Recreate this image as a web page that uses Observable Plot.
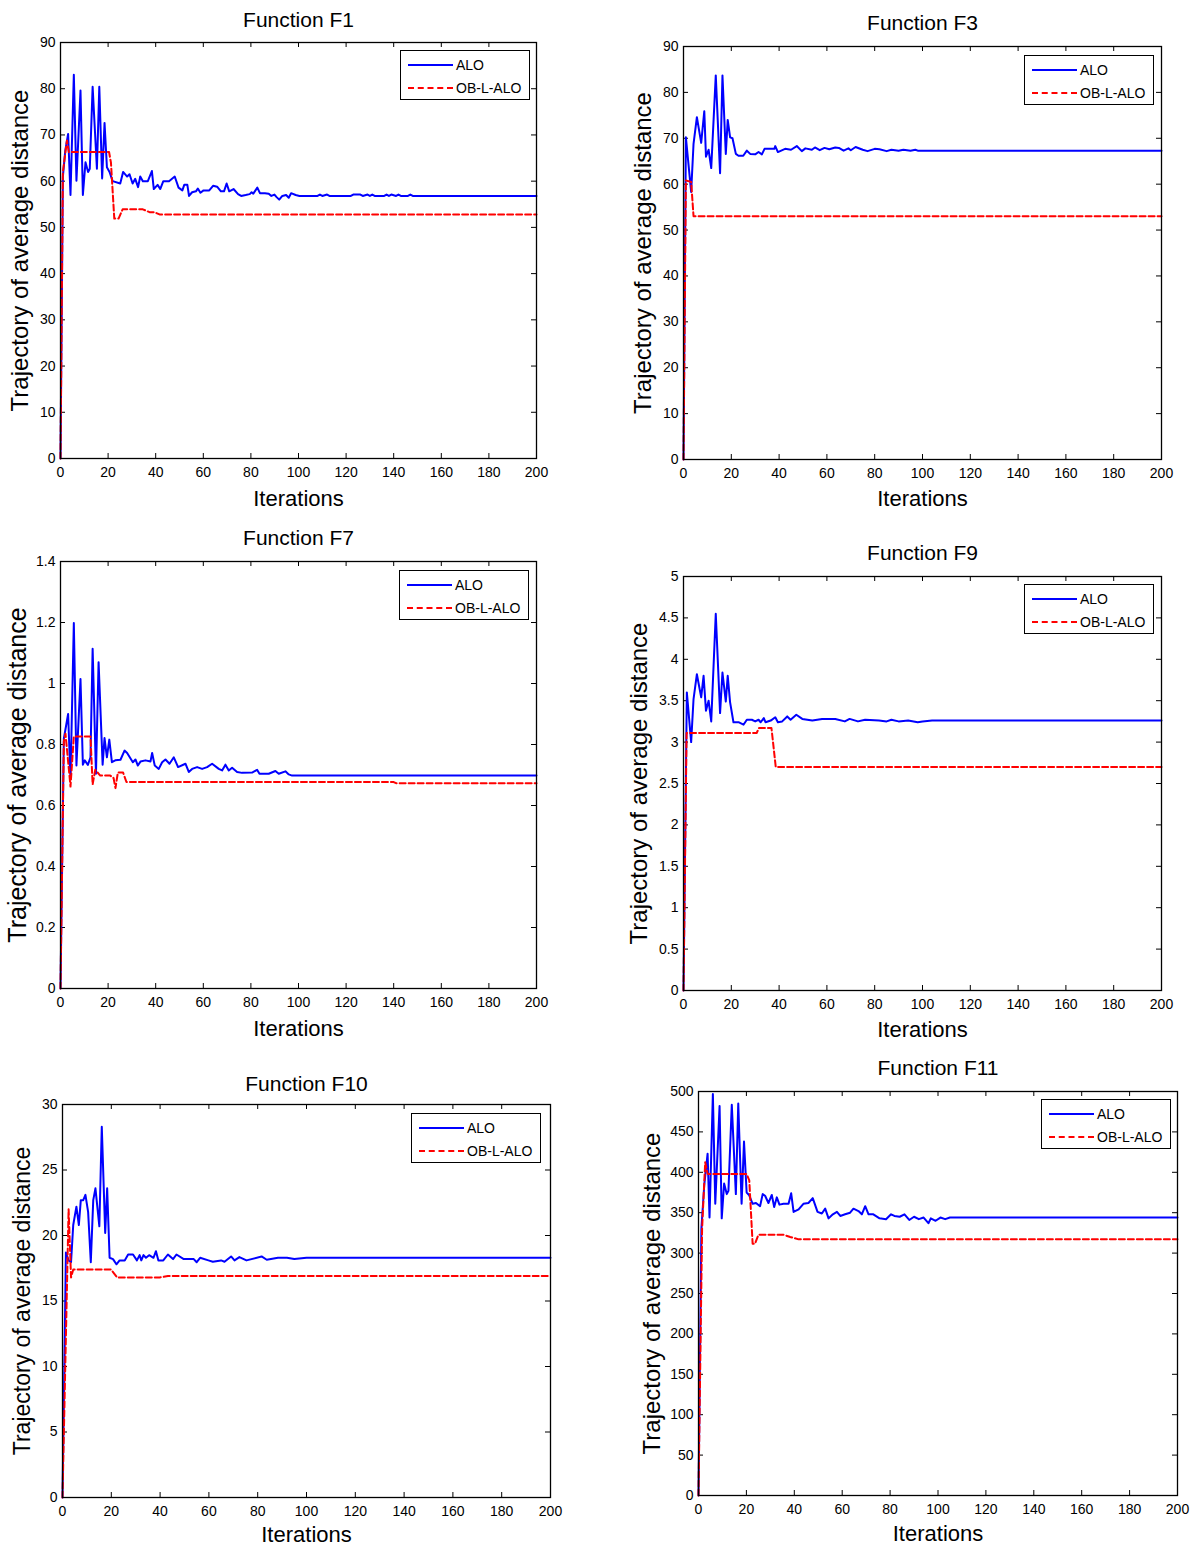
<!DOCTYPE html>
<html>
<head>
<meta charset="utf-8">
<script src="https://cdn.jsdelivr.net/npm/d3@7"></script>
<script src="https://cdn.jsdelivr.net/npm/@observablehq/plot@0.6"></script>
<style>
  body { margin: 0; background: #fff; }
  #wrap { position: relative; width: 1194px; height: 1548px; overflow: hidden; background: #fff;
          font-family: "Liberation Sans", Arial, sans-serif; }
  #wrap svg { position: absolute; left: 0; top: 0; }
  .legend { position: absolute; width: 130px; height: 50px; border: 1px solid #000; background: #fff; box-sizing: border-box; }
  .legend .row { position: absolute; left: 0; height: 0; width: 100%; }
  .legend .sample { position: absolute; left: 7px; width: 45px; top: 0; }
  .legend .lab { position: absolute; left: 55px; top: -9px; font-size: 14px; line-height: 18px; color: #000; white-space: nowrap; }
</style>
</head>
<body>
<div id="wrap"></div>
<script>
// ---------- data: [iteration, average distance] ----------
const seriesNames = ["ALO", "OB-L-ALO"];
const iterTicks = [0, 20, 40, 60, 80, 100, 120, 140, 160, 180, 200];

const f1Ticks = [0, 10, 20, 30, 40, 50, 60, 70, 80, 90];
const f1Alo = [[0,0],[1,61],[2,66.6],[3.2,70.2],[4.2,57],[5.6,83],[6.7,60.1],[8.4,79.6],[9.4,57],[10.5,64.1],[11.6,62],[12.3,62.7],[13.5,80.4],[15.3,62.7],[16.3,80.4],[17.5,60.6],[18.5,72.6],[19.5,63],[20.6,62],[21.9,60],[25.1,59.5],[26.3,62],[28,61],[29,61.5],[30.3,59.5],[31.4,60.5],[32.6,58.7],[33.5,61],[34.6,60],[36.7,60],[38.4,62.2],[39.2,58.3],[40.8,59.2],[41.9,58.3],[43.2,60],[45.6,60],[48,61],[49.6,58.6],[51.2,58],[52,59.2],[53.3,59.2],[54,56.8],[55.3,57.6],[56.9,57.8],[57.7,58.4],[58.8,57.5],[60.1,58],[62.5,58],[64.1,59],[65.8,58.8],[67.4,57.8],[68.7,57.8],[69.8,59.5],[70.9,57.8],[72.7,58.3],[74.6,57.2],[75.9,56.8],[77.8,57],[79.5,57.2],[80.3,57.6],[81,57.3],[82.7,58.6],[83.8,57.4],[85.9,57.4],[87.5,57.3],[88.6,56.8],[89.9,57.1],[90.7,56.6],[91.9,56],[93.2,56.8],[94.8,57],[95.9,56.4],[96.9,57.4],[98.8,57],[100.4,56.8],[108,56.8],[109,57.1],[110,56.8],[112,57.1],[113,56.8],[122,56.8],[123,57.1],[126,57.1],[127,56.8],[129,57.1],[130,56.8],[131,57.1],[132,56.8],[136,56.8],[137,57.1],[138,56.8],[139,57.1],[141,56.8],[142,57.1],[143,56.8],[146,56.8],[147,57.1],[148,56.8],[200,56.8]];
const f1Obl = [[0,0],[1,62],[2.7,68.8],[3.5,66.3],[20.4,66.3],[21.2,64],[22.6,51.9],[24.4,51.9],[26.1,53.9],[34.6,53.9],[37.4,53.3],[39.5,53.3],[41.6,52.8],[200,52.8]];

const f3Ticks = [0, 10, 20, 30, 40, 50, 60, 70, 80, 90];
const f3Alo = [[0,0],[1,70.2],[3.2,58.3],[4.2,68.8],[5.6,74.6],[7.4,69],[8.7,75.9],[9.4,66],[10.5,67.5],[11.6,63.5],[13.5,83.7],[15.3,62.4],[16.3,83.7],[17.7,66.6],[18.5,74],[19.5,70.2],[20.5,70],[21.9,66.6],[23,66.2],[25,66.2],[26.5,67.3],[27.9,66.6],[30,66.5],[31.4,67],[32.8,66.5],[33.9,67.7],[38,67.7],[38.4,68.3],[39.5,67],[42.5,67.7],[45,67.5],[47.4,68.3],[49.5,67.2],[51,67.8],[53.7,67.5],[55,68],[57,67.4],[59,67.9],[61,67.6],[63.5,68],[65,67.9],[67,67.3],[69,67.8],[70,67.4],[72,68.1],[75,67.5],[77,67.2],[80,67.7],[82,67.6],[85,67.2],[87,67.5],[90,67.3],[92,67.5],[95,67.3],[97,67.5],[98,67.3],[200,67.3]];
const f3Obl = [[0,0],[1,60.8],[3.2,60.5],[4.2,53],[200,53]];

const f7Ticks = [0, 0.2, 0.4, 0.6, 0.8, 1, 1.2, 1.4];
const f7Alo = [[0,0],[1.4,0.819],[3.2,0.9],[4.2,0.687],[5.6,1.198],[6.7,0.731],[8.4,1.015],[9.4,0.734],[10.2,0.748],[11.5,0.733],[12.6,0.758],[13.5,1.114],[14.9,0.704],[16,1.07],[17.7,0.734],[18.5,0.821],[19.5,0.758],[20.5,0.816],[21.6,0.742],[23,0.748],[25.2,0.75],[26.9,0.78],[28,0.772],[30.4,0.742],[31.5,0.751],[32.5,0.731],[33.6,0.744],[35.7,0.748],[37.8,0.744],[38.5,0.772],[39.6,0.731],[41.3,0.72],[42.7,0.742],[44.1,0.751],[45.8,0.737],[47.6,0.758],[49.4,0.726],[52.5,0.737],[53.9,0.71],[55.3,0.72],[57.4,0.726],[59.5,0.72],[61.6,0.726],[63.7,0.737],[66.5,0.72],[67.9,0.715],[69.3,0.734],[70.7,0.715],[72.1,0.724],[74.2,0.71],[76.3,0.707],[80.5,0.708],[82.6,0.717],[83.6,0.704],[87.5,0.704],[90.3,0.713],[91.7,0.704],[94.5,0.712],[95.9,0.702],[97.3,0.698],[200,0.698]];
const f7Obl = [[0,0],[1.4,0.81],[2.1,0.835],[4.2,0.662],[5.6,0.826],[12.6,0.826],[13.5,0.669],[14.6,0.717],[16.7,0.698],[20.9,0.698],[22.3,0.69],[23.1,0.657],[24.1,0.708],[26.3,0.708],[27.7,0.677],[140,0.677],[141,0.673],[200,0.673]];

const f9Ticks = [0, 0.5, 1, 1.5, 2, 2.5, 3, 3.5, 4, 4.5, 5];
const f9Alo = [[0,0],[1.4,3.6],[3.2,3.0],[4.2,3.52],[5.6,3.82],[7.4,3.54],[8.4,3.8],[9.4,3.38],[10.5,3.5],[11.6,3.25],[13.5,4.55],[15.3,3.35],[16.3,3.84],[17.7,3.49],[18.5,3.8],[19.5,3.48],[20.9,3.24],[23,3.24],[25.1,3.21],[26.5,3.27],[28.6,3.27],[30,3.25],[31.4,3.27],[32.3,3.24],[33.6,3.29],[34.3,3.24],[36.5,3.26],[38.4,3.3],[39.5,3.24],[41.3,3.25],[43.4,3.31],[44.8,3.27],[47.2,3.33],[49.7,3.28],[53.9,3.26],[58,3.28],[63.5,3.28],[67.5,3.25],[69.5,3.28],[73,3.25],[76,3.27],[81.8,3.26],[85,3.25],[87,3.27],[90,3.25],[94,3.26],[98,3.24],[100,3.25],[104,3.26],[200,3.26]];
const f9Obl = [[0,0],[1.3,3.11],[30.6,3.11],[31.6,3.17],[36.8,3.17],[38.6,2.7],[200,2.7]];

const f10Ticks = [0, 5, 10, 15, 20, 25, 30];
const f10Alo = [[0,0],[1.4,18.7],[2.5,18.1],[3.5,17.96],[4.4,20.8],[5.7,22.2],[6.7,20.8],[7.5,22.7],[8.5,22.7],[9.4,23.1],[10.5,21.8],[11.6,17.96],[12.6,22.7],[13.5,23.6],[15.1,20.7],[16.1,28.3],[17.5,20.2],[18.3,23.6],[19.3,18.3],[20.7,18.2],[22.1,17.8],[23.4,18.1],[25.5,18.1],[26.9,18.55],[28.9,18.55],[30.5,18.1],[31.6,18.5],[32.3,18.1],[33.2,18.5],[34.2,18.3],[35.5,18.5],[37.3,18.3],[38.3,18.8],[39.3,18.1],[41.3,18.1],[43.2,18.55],[45.3,18.2],[46.7,18.55],[49.7,18.2],[53.8,18.2],[55,17.96],[56.4,18.3],[59.8,18.1],[61.6,18.0],[65,18.1],[66.4,18.0],[69.1,18.4],[70.5,18.1],[72.5,18.35],[75.4,18.1],[81.6,18.4],[83.7,18.15],[88.3,18.3],[92,18.3],[95,18.2],[100,18.3],[200,18.3]];
const f10Obl = [[0,0],[2.5,22],[3.5,16.8],[4.4,17.4],[19.9,17.4],[22.4,16.8],[39.8,16.8],[43.2,16.9],[200,16.9]];

const f11Ticks = [0, 50, 100, 150, 200, 250, 300, 350, 400, 450, 500];
const f11Alo = [[0,0],[1.2,330],[2.4,384],[3.8,423],[4.6,344],[6,497],[7,361],[8.8,482],[9.7,343],[10.7,386],[11.8,373],[12.5,377],[13.9,483.5],[15.6,373],[16.6,485],[18,361],[19,438],[20.1,375],[21.1,372],[22.6,361],[24,362],[25.7,358],[26.8,373],[27.8,371],[29.2,362],[30.6,372],[31.6,357],[32.7,369],[33.8,360],[35.5,361],[37.6,361],[38.7,374],[39.7,351],[41.8,354],[43.8,361],[45.9,362],[47.7,368],[49.7,351],[51.5,349],[52.9,355],[54.3,343],[56.1,348],[57.8,351],[59.2,346],[61.2,348],[63.3,350],[64.7,355],[66.8,352],[68.2,348],[69.6,358],[71,348],[73,348],[75.6,343],[78.3,342],[80.4,348],[81.8,346],[84,345],[86,348],[88,341],[90,345],[92,342],[94,344],[96,337],[97,343],[99,340],[101,344],[103,342],[105,344],[200,344]];
const f11Obl = [[0,0],[1.5,330],[2.8,412.5],[3.8,398],[20.1,398],[21.2,390],[22.6,311.5],[23.6,311.5],[25,322.6],[35.5,322.6],[38.3,320],[41.8,317],[200,317]];

// ---------- layout (frame edges in page pixels, label offsets) ----------
const panels = [
  {title: "Function F1", alo: f1Alo, obl: f1Obl, yMax: 90, ticks: f1Ticks,
   frame: [60, 536, 42, 458], titleDy: -22, xlabDy: 40, ylabDx: -40, ylabSize: 24, legend: [400, 50]},
  {title: "Function F3", alo: f3Alo, obl: f3Obl, yMax: 90, ticks: f3Ticks,
   frame: [683, 1161, 46, 459], titleDy: -23, xlabDy: 39, ylabDx: -40, ylabSize: 24, legend: [1024, 55]},
  {title: "Function F7", alo: f7Alo, obl: f7Obl, yMax: 1.4, ticks: f7Ticks,
   frame: [60, 536, 561, 988], titleDy: -23, xlabDy: 40, ylabDx: -43, ylabSize: 25, legend: [399, 570]},
  {title: "Function F9", alo: f9Alo, obl: f9Obl, yMax: 5, ticks: f9Ticks,
   frame: [683, 1161, 576, 990], titleDy: -23, xlabDy: 39, ylabDx: -44, ylabSize: 24, legend: [1024, 584]},
  {title: "Function F10", alo: f10Alo, obl: f10Obl, yMax: 30, ticks: f10Ticks,
   frame: [62, 550, 1104, 1497], titleDy: -20, xlabDy: 37, ylabDx: -40, ylabSize: 23, legend: [411, 1113]},
  {title: "Function F11", alo: f11Alo, obl: f11Obl, yMax: 500, ticks: f11Ticks,
   frame: [698, 1177, 1091, 1495], titleDy: -23, xlabDy: 38, ylabDx: -46, ylabSize: 24, legend: [1041, 1099]}
];

const W = 1194, H = 1548;
const BLUE = "#0000ff", RED = "#ff0000";
const wrap = document.getElementById("wrap");

for (const p of panels) {
  const [L, R, T, B] = p.frame;
  const kx = 5 / (R - L) * 200;       // 5px in x data units
  const ky = 5 / (B - T) * p.yMax;    // 5px in y data units
  const svg = Plot.plot({
    width: W, height: H,
    marginLeft: L, marginRight: W - R, marginTop: T, marginBottom: H - B,
    x: {domain: [0, 200]},
    y: {domain: [0, p.yMax]},
    style: {background: "transparent", overflow: "visible", fontFamily: "'Liberation Sans', Arial, sans-serif", color: "#000"},
    marks: [
      Plot.axisX({ticks: iterTicks, tickSize: 0, tickPadding: 9, fontSize: 14, label: null, tickFormat: d => String(d)}),
      Plot.axisY({ticks: p.ticks, tickSize: 0, tickPadding: 5, fontSize: 14, label: null, tickFormat: d => String(d)}),
      Plot.ruleX(iterTicks, {x: d => d, y1: 0, y2: ky, stroke: "#000", strokeWidth: 1}),
      Plot.ruleX(iterTicks, {x: d => d, y1: p.yMax, y2: p.yMax - ky, stroke: "#000", strokeWidth: 1}),
      Plot.ruleY(p.ticks, {y: d => d, x1: 0, x2: kx, stroke: "#000", strokeWidth: 1}),
      Plot.ruleY(p.ticks, {y: d => d, x1: 200, x2: 200 - kx, stroke: "#000", strokeWidth: 1}),
      Plot.line(p.alo, {x: d => d[0], y: d => d[1], stroke: BLUE, strokeWidth: 2}),
      Plot.line(p.obl, {x: d => d[0], y: d => d[1], stroke: RED, strokeWidth: 2, strokeDasharray: "6,3"}),
      Plot.frame({stroke: "#000", strokeWidth: 1.3}),
      Plot.text([p.title], {frameAnchor: "top", dy: p.titleDy, fontSize: 21, fill: "#000", lineAnchor: "middle", textAnchor: "middle"}),
      Plot.text(["Iterations"], {frameAnchor: "bottom", dy: p.xlabDy, fontSize: 22, fill: "#000", lineAnchor: "middle", textAnchor: "middle"}),
      Plot.text(["Trajectory of average distance"], {frameAnchor: "left", dx: p.ylabDx, rotate: -90, fontSize: p.ylabSize, fill: "#000", lineAnchor: "middle", textAnchor: "middle"})
    ]
  });
  wrap.appendChild(svg);

  // legend box
  const lg = document.createElement("div");
  lg.className = "legend";
  lg.style.left = p.legend[0] + "px";
  lg.style.top = p.legend[1] + "px";
  const styles = [`border-top: 2px solid ${BLUE}`, `border-top: 2px dashed ${RED}`];
  const rowsY = [14, 37];
  seriesNames.forEach((name, i) => {
    const row = document.createElement("div");
    row.className = "row";
    row.style.top = rowsY[i] + "px";
    row.innerHTML = `<div class="sample" style="${styles[i]}; margin-top:-1px"></div><div class="lab">${name}</div>`;
    lg.appendChild(row);
  });
  wrap.appendChild(lg);
}
</script>
</body>
</html>
